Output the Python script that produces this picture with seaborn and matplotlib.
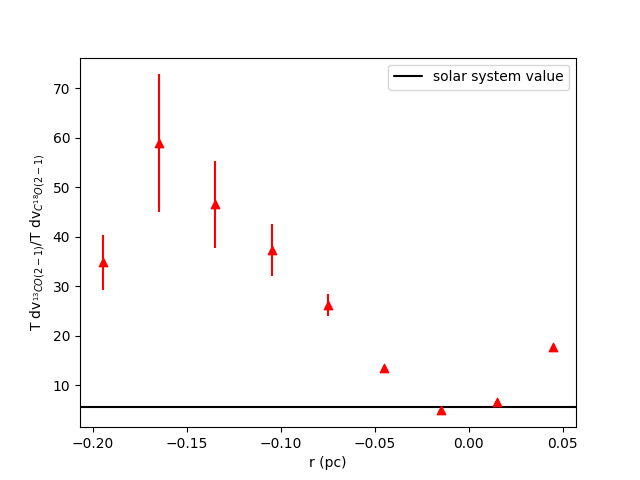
import numpy as np
import pandas as pd
import matplotlib
matplotlib.use('Agg')
import matplotlib.pyplot as plt
import seaborn as sns

r_pc = [-0.195, -0.165, -0.135, -0.105, -0.075, -0.045, -0.015, 0.015, 0.045]
ratio = [34.8, 58.9, 46.6, 37.3, 26.2, 13.4, 4.9, 6.6, 17.7]
ratio_err = [5.6, 13.9, 8.8, 5.2, 2.2, 0.0, 0.0, 0.0, 0.0]
solar_value = 5.6

df = pd.DataFrame({'r': r_pc, 'ratio': ratio, 'err': ratio_err})

sns.set_style('ticks', rc={'text.color': 'black', 'axes.labelcolor': 'black',
                           'xtick.color': 'black', 'ytick.color': 'black',
                           'axes.edgecolor': 'black'})
plt.rcParams['font.family'] = ['DejaVu Sans']

fig, ax = plt.subplots(figsize=(6.4, 4.8), dpi=100)
ax.errorbar(df['r'], df['ratio'], yerr=df['err'], fmt='none', ecolor='red', elinewidth=1.5)
sns.scatterplot(data=df, x='r', y='ratio', marker='^', color='red', edgecolor='red',
                s=36, linewidth=1, ax=ax, zorder=3)
ax.axhline(solar_value, color='black', label='solar system value')
ax.set_xlabel('r (pc)')
ax.set_ylabel(r'T dv$_{^{13}CO(2-1)}$/T dv$_{C^{18}O(2-1)}$')
ax.legend(loc='upper right')
fig.savefig('out.png')
